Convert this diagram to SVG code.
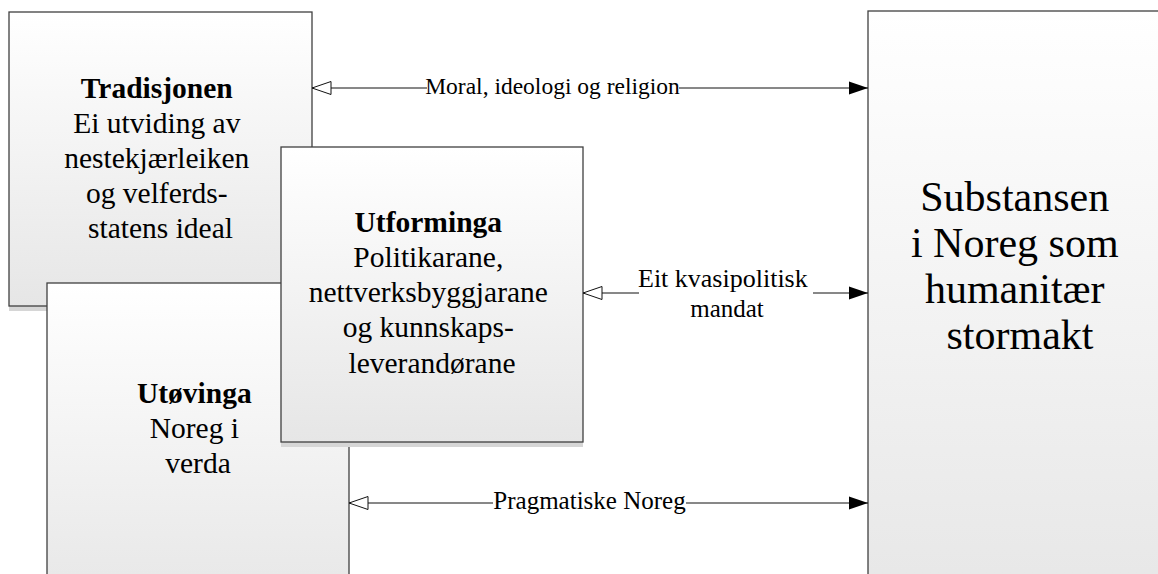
<svg xmlns="http://www.w3.org/2000/svg" width="1158" height="574" viewBox="0 0 1158 574">
  <style>
    .box { stroke: #404040; stroke-width: 1.3; fill: url(#grad); }
    .shadow { fill: #d6d6d6; }
    .t { font-family: "Liberation Serif", "Times New Roman", serif; fill: #000; text-anchor: middle; }
    .bt { font-size: 29.5px; }
    .big { font-size: 42px; }
    .lbl { font-size: 25px; }
    .b { font-weight: bold; }
    .conn { stroke: #111; stroke-width: 1; fill: none; marker-start: url(#open); marker-end: url(#filled); }
    .bg { fill: #ffffff; }
  </style>
  <defs>
    <linearGradient id="grad" x1="0" y1="0" x2="0" y2="1">
      <stop offset="0" stop-color="#ffffff"/>
      <stop offset="1" stop-color="#e6e6e6"/>
    </linearGradient>
    <marker id="open" markerUnits="userSpaceOnUse" markerWidth="22" markerHeight="16" viewBox="-1 -1 22 16" refX="0" refY="7" orient="auto">
      <path d="M0,7 L19,0.5 L19,13.5 Z" fill="#ffffff" stroke="#111" stroke-width="1"/>
    </marker>
    <marker id="filled" markerUnits="userSpaceOnUse" markerWidth="22" markerHeight="16" viewBox="-1 -1 22 16" refX="19" refY="7" orient="auto">
      <path d="M0,0.5 L19,7 L0,13.5 Z" fill="#000"/>
    </marker>
  </defs>

  <g id="tradisjonen">
    <rect class="shadow" x="9" y="17" width="303" height="294"/>
    <rect class="box" x="9" y="12" width="303" height="294"/>
    <text class="t bt">
      <tspan class="b" x="160.5" y="98">Tradisjonen</tspan>
      <tspan x="160.5" y="133">Ei utviding av</tspan>
      <tspan x="160.5" y="168">nestekjærleiken</tspan>
      <tspan x="160.5" y="203">og velferds-</tspan>
      <tspan x="160.5" y="238">statens ideal</tspan>
    </text>
  </g>

  <g id="utovinga">
    <rect class="box" x="47" y="283" width="302" height="330"/>
    <text class="t bt">
      <tspan class="b" x="198" y="403">Utøvinga</tspan>
      <tspan x="198" y="438">Noreg i</tspan>
      <tspan x="198" y="473">verda</tspan>
    </text>
  </g>

  <g id="utforminga">
    <rect class="shadow" x="281" y="152" width="302" height="295"/>
    <rect class="box" x="281" y="147" width="302" height="295"/>
    <text class="t bt">
      <tspan class="b" x="432" y="231.5">Utforminga</tspan>
      <tspan x="432" y="266.7">Politikarane,</tspan>
      <tspan x="432" y="302">nettverksbyggjarane</tspan>
      <tspan x="432" y="337.2">og kunnskaps-</tspan>
      <tspan x="432" y="372.5">leverandørane</tspan>
    </text>
  </g>

  <g id="substansen">
    <rect class="box" x="868" y="11" width="304" height="610"/>
    <text class="t big">
      <tspan x="1020" y="211">Substansen</tspan>
      <tspan x="1020" y="257">i Noreg som</tspan>
      <tspan x="1020" y="303">humanitær</tspan>
      <tspan x="1020" y="349">stormakt</tspan>
    </text>
  </g>

  <g id="connectors">
    <line class="conn" x1="312" y1="88" x2="868" y2="88"/>
    <rect class="bg" x="427" y="76" width="252" height="26"/>
    <text class="t lbl" x="552.5" y="94" style="font-size:23.5px">Moral, ideologi og religion</text>

    <line class="conn" x1="583" y1="293" x2="868" y2="293"/>
    <rect class="bg" x="639" y="280" width="174" height="14"/>
    <text class="t lbl">
      <tspan x="726" y="287" style="font-size:26px">Eit kvasipolitisk</tspan>
      <tspan x="727" y="317">mandat</tspan>
    </text>

    <line class="conn" x1="349" y1="503" x2="868" y2="503"/>
    <rect class="bg" x="493" y="491" width="193" height="24"/>
    <text class="t lbl" x="589.5" y="509">Pragmatiske Noreg</text>
  </g>
</svg>
